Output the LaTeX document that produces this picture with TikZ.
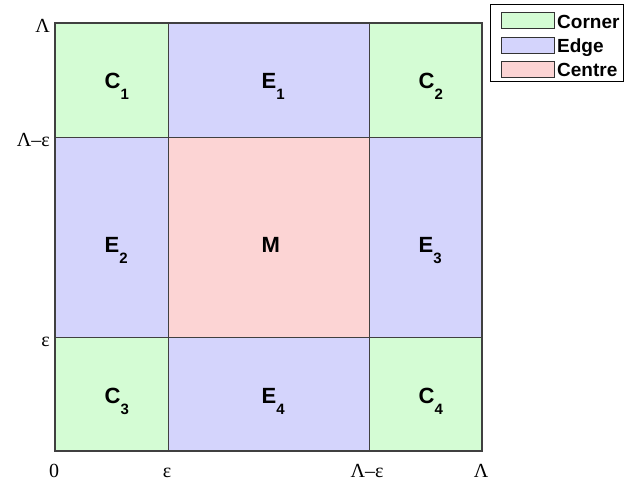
\documentclass[tikz,border=0pt]{standalone}
\usepackage{fontspec}
\setmainfont{Liberation Serif}
\newfontfamily\hv{Liberation Sans}
\definecolor{corner}{RGB}{212,252,212}
\definecolor{edge}{RGB}{212,212,252}
\definecolor{centre}{RGB}{252,212,212}
\definecolor{frame}{RGB}{64,64,64}
\newcommand{\lab}[2]{{\hv\bfseries\fontsize{22}{22}\selectfont #1\raisebox{-11pt}{\fontsize{15}{15}\selectfont #2}}}
\begin{document}
\begin{tikzpicture}[x=1pt,y=-1pt,
  region/.style={inner sep=0pt,anchor=base west},
  axl/.style={inner sep=0pt,font=\fontsize{20}{20}\selectfont},
  swatch/.style={draw=black!80,line width=0.8pt},
  legtext/.style={inner sep=0pt,anchor=base west,font=\hv\bfseries\fontsize{19}{19}\selectfont}]
\useasboundingbox (0,0) rectangle (625,486);
% cells
\fill[corner] (55,23) rectangle (168,137);
\fill[edge] (168,23) rectangle (369,137);
\fill[corner] (369,23) rectangle (482,137);
\fill[edge] (55,137) rectangle (168,337);
\fill[centre] (168,137) rectangle (369,337);
\fill[edge] (369,137) rectangle (482,337);
\fill[corner] (55,337) rectangle (168,451);
\fill[edge] (168,337) rectangle (369,451);
\fill[corner] (369,337) rectangle (482,451);
% grid lines
\draw[frame,line width=0.9pt] (168,23) -- (168,451) (369,23) -- (369,451)
  (55,137) -- (482,137) (55,337) -- (482,337);
\draw[frame,line width=1.4pt] (55,23) rectangle (482,451);
% region labels
\node[region] (c1) at (104.5,89) {\lab{C}{1}};
\node[region] (e1) at (261.5,89) {\lab{E}{1}};
\node[region] (c2) at (418.5,89) {\lab{C}{2}};
\node[region] (e2) at (104.5,253) {\lab{E}{2}};
\node[region] (m) at (261.5,253) {\lab{M}{}};
\node[region] (e3) at (418.5,253) {\lab{E}{3}};
\node[region] (c3) at (104.5,404) {\lab{C}{3}};
\node[region] (e4) at (261.5,404) {\lab{E}{4}};
\node[region] (c4) at (418.5,404) {\lab{C}{4}};
% axis labels
\node[axl,anchor=base east] (yl) at (50,33) {Λ};
\node[axl,anchor=base east] (yle) at (50,147) {Λ–ε};
\node[axl,anchor=base east] (ye) at (50,347) {ε};
\node[axl,anchor=base] (x0) at (54,478) {0};
\node[axl,anchor=base] (xe) at (167,478) {ε};
\node[axl,anchor=base] (xle) at (367,478) {Λ–ε};
\node[axl,anchor=base] (xl) at (481,478) {Λ};
% legend
\draw[black,line width=0.8pt,fill=white] (490,4) rectangle (623,81);
\draw[swatch,fill=corner] (501,12) rectangle (554,28);
\draw[swatch,fill=edge] (501,37) rectangle (554,53);
\draw[swatch,fill=centre] (501,61) rectangle (554,77);
\node[legtext] (lc) at (557,28.5) {Corner};
\node[legtext] (le) at (557,52.5) {Edge};
\node[legtext] (lm) at (557,76.5) {Centre};
\end{tikzpicture}
\end{document}
